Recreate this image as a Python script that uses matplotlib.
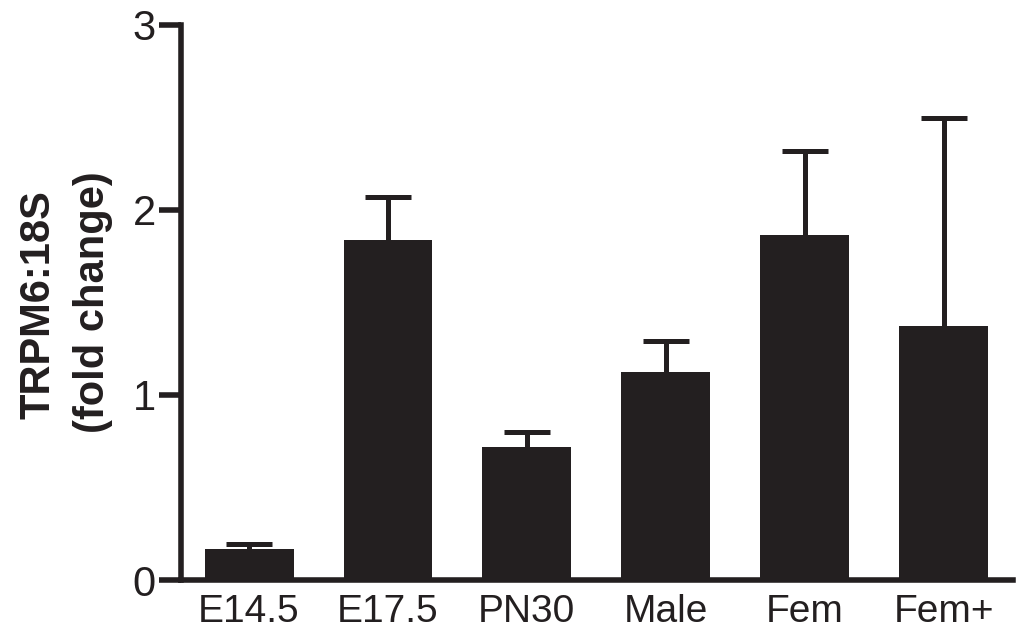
import matplotlib
matplotlib.use("Agg")
import matplotlib.pyplot as plt
import numpy as np

categories = ["E14.5", "E17.5", "PN30", "Male", "Fem", "Fem+"]
means = [0.17, 1.838, 0.72, 1.122, 1.861, 1.374]
errors = [0.025, 0.231, 0.077, 0.168, 0.455, 1.122]
yticks = [0, 1, 2, 3]

plt.rcParams['font.family'] = ['Liberation Sans', 'DejaVu Sans']
color = '#231f20'

fig = plt.figure(figsize=(10.2, 6.28), dpi=100)
ax = fig.add_axes([181/1020, 1 - 580/628, (1013 - 181)/1020, (580 - 24.5)/628])

x = np.arange(len(categories))
ax.bar(x, means, width=0.64, color=color, zorder=2)
eb = ax.errorbar(x, means, yerr=[np.zeros(len(errors)), errors], fmt='none',
                 ecolor=color, elinewidth=3.6, capsize=16.5, capthick=3.6, zorder=1)
# hide the lower caps (only upper error shown)
caplines = eb[1]
if len(caplines) >= 2:
    caplines[0].set_visible(False)

ax.set_xlim(-0.49, 5.5)
ax.set_ylim(0, 3)
ax.set_yticks(yticks)
ax.set_yticklabels([str(v) for v in yticks])
ax.set_xticks(x)
ax.set_xticklabels(categories)

for s in ['top', 'right']:
    ax.spines[s].set_visible(False)
for s in ['left', 'bottom']:
    ax.spines[s].set_linewidth(4.0)
    ax.spines[s].set_color(color)
    ax.spines[s].set_capstyle('projecting')

ax.tick_params(axis='y', length=16, width=4.0, color=color, pad=2,
               labelsize=30, labelcolor=color)
ax.tick_params(axis='x', length=0, pad=10, labelsize=28, labelcolor=color)

fig.text(38.5/1020, 1 - 305/628, "TRPM6:18S", rotation=90, ha='center', va='center',
         fontsize=30, fontweight='bold', color=color)
fig.text(93.5/1020, 1 - 302/628, "(fold change)", rotation=90, ha='center', va='center',
         fontsize=30, fontweight='bold', color=color)

fig.savefig("out.png", dpi=100)
